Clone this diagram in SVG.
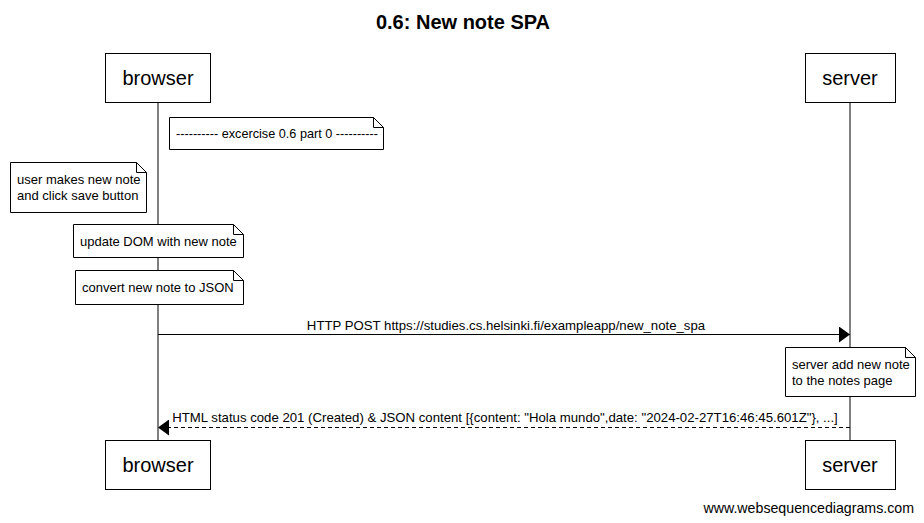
<svg xmlns="http://www.w3.org/2000/svg" width="924" height="523" viewBox="0 0 924 523">
<style>
text{font-family:"Liberation Sans",Arial,sans-serif;fill:#000}
.box{fill:#fff;stroke:#000;stroke-width:1}
.life{stroke:#000;stroke-width:1}
.pl{font-size:20px;text-anchor:middle}
.note{fill:#fff;stroke:#000;stroke-width:1}
.nt{font-size:13px}
.lbl{font-size:13.2px;text-anchor:middle}
.msg{stroke:#000;stroke-width:1;fill:none}
</style>
<defs>
<marker id="ah" markerWidth="12" markerHeight="16" refX="11" refY="8" orient="auto" markerUnits="userSpaceOnUse">
<path d="M0,0 L11,8 L0,16 Z" fill="#000"/>
</marker>
</defs>
<rect width="924" height="523" fill="#fff"/>
<text x="463" y="29" font-size="20" font-weight="bold" text-anchor="middle">0.6: New note SPA</text>
<g id="lifelines">
<line class="life" x1="158" y1="102" x2="158" y2="440"/>
<line class="life" x1="850" y1="102" x2="850" y2="440"/>
</g>
<g id="browser">
<rect class="box" x="105.5" y="53.5" width="105" height="49"/>
<text class="pl" x="158" y="85">browser</text>
</g>
<g id="server">
<rect class="box" x="805.5" y="53.5" width="90" height="49"/>
<text class="pl" x="850" y="85">server</text>
</g>
<g id="browser-bottom">
<rect class="box" x="105.5" y="440.5" width="105" height="49"/>
<text class="pl" x="158" y="472">browser</text>
</g>
<g id="server-bottom">
<rect class="box" x="805.5" y="440.5" width="90" height="49"/>
<text class="pl" x="850" y="472">server</text>
</g>
<g id="note1">
<path class="note" d="M169.5,117.5 H373.5 L383.5,127.5 V149.5 H169.5 Z M373.5,117.5 V127.5 H383.5"/>
<text class="nt" x="176" y="138" font-size="12.6" textLength="202" lengthAdjust="spacingAndGlyphs">---------- excercise 0.6 part 0 ----------</text>
</g>
<g id="note2">
<path class="note" d="M10.5,162.5 H136.5 L146.5,172.5 V212.5 H10.5 Z M136.5,162.5 V172.5 H146.5"/>
<text class="nt" x="17" y="184">user makes new note</text>
<text class="nt" x="17" y="200">and click save button</text>
</g>
<g id="note3">
<path class="note" d="M73.5,224.5 H233.5 L243.5,234.5 V257.5 H73.5 Z M233.5,224.5 V234.5 H243.5"/>
<text class="nt" x="80" y="246">update DOM with new note</text>
</g>
<g id="note4">
<path class="note" d="M75.5,270.5 H233.5 L243.5,280.5 V304.5 H75.5 Z M233.5,270.5 V280.5 H243.5"/>
<text class="nt" x="82" y="292">convert new note to JSON</text>
</g>
<g id="note5">
<path class="note" d="M785.5,347.5 H905.5 L915.5,357.5 V396.5 H785.5 Z M905.5,347.5 V357.5 H915.5"/>
<text class="nt" x="792" y="369">server add new note</text>
<text class="nt" x="792" y="385">to the notes page</text>
</g>
<g id="connectors">
<line class="msg" x1="158" y1="334.5" x2="850" y2="334.5" marker-end="url(#ah)"/>
<text class="lbl" x="506" y="330">HTTP POST https://studies.cs.helsinki.fi/exampleapp/new_note_spa</text>
<line class="msg" x1="850" y1="427.5" x2="158" y2="427.5" stroke-dasharray="4,3" marker-end="url(#ah)"/>
<text class="lbl" x="505" y="422">HTML status code 201 (Created) &amp; JSON content [{content: "Hola mundo",date: "2024-02-27T16:46:45.601Z"}, ...]</text>
</g>
<text x="914" y="513" font-size="14.2" text-anchor="end">www.websequencediagrams.com</text>
</svg>
